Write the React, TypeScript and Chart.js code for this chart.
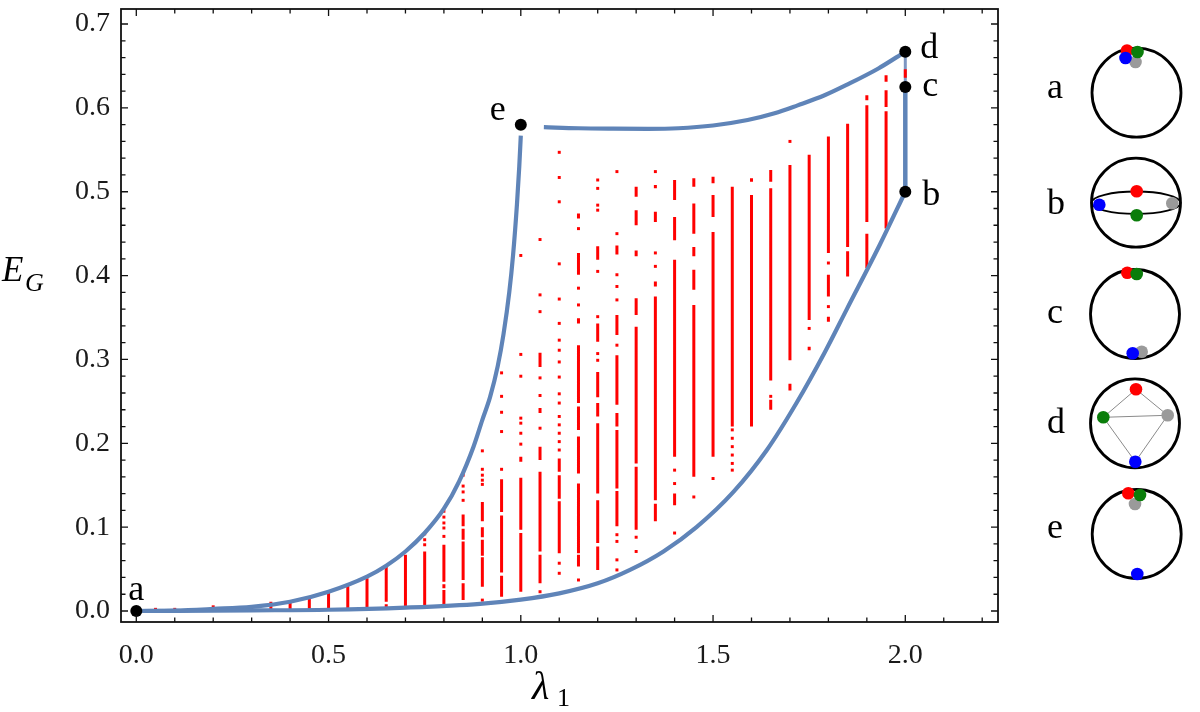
import { useEffect, useRef } from "react";
import { Chart, registerables } from "chart.js";

Chart.register(...registerables);

// Axis ranges and tick labels
const X_MIN = -0.0398;
const X_MAX = 2.2411;
const Y_MIN = -0.0131;
const Y_MAX = 0.7179;
const xTickValues = [0, 0.5, 1.0, 1.5, 2.0];
const yTickValues = [0, 0.1, 0.2, 0.3, 0.4, 0.5, 0.6, 0.7];

// Lower boundary of the allowed region
const lowerLambda = [0, 0.3, 0.5, 0.7, 0.894, 1.0, 1.1, 1.2, 1.284, 1.371, 1.457, 1.553, 1.64, 1.717, 1.79, 1.848, 1.934, 2.0];
const lowerEnergy = [0, 0.0008, 0.0015, 0.004, 0.0085, 0.0135, 0.021, 0.033, 0.049, 0.071, 0.1, 0.142, 0.192, 0.248, 0.308, 0.36, 0.437, 0.5];

// Left boundary, from a up to e
const leftLambda = [0, 0.1, 0.2, 0.3, 0.4, 0.5, 0.6, 0.65, 0.7, 0.75, 0.8, 0.84, 0.877, 0.9, 0.92, 0.94, 0.955, 0.97, 0.98, 0.99, 0.996, 1.0];
const leftEnergy = [0, 0.0005, 0.0025, 0.005, 0.011, 0.023, 0.041, 0.054, 0.071, 0.093, 0.122, 0.155, 0.196, 0.228, 0.255, 0.292, 0.33, 0.38, 0.425, 0.485, 0.53, 0.567];

// Upper boundary, from near e to d
const topLambda = [1.06, 1.15, 1.24, 1.33, 1.41, 1.5, 1.59, 1.66, 1.72, 1.79, 1.85, 1.93, 2.0];
const topEnergy = [0.577, 0.5757, 0.5752, 0.575, 0.5757, 0.579, 0.5855, 0.5935, 0.603, 0.615, 0.628, 0.647, 0.667];

// Right edge at lambda = 2 (b to c, then c to d)
const edgeLambda = [2.0, 2.0];
const edgeEnergy = [0.5, 0.625];
const capLambda = [2.0, 2.0];
const capEnergy = [0.625, 0.667];

// Special configurations
const markerNames = ["a", "b", "c", "d", "e"];
const markerLambda = [0, 2.0, 2.0, 2.0, 1.0];
const markerEnergy = [0, 0.5, 0.625, 0.667, 0.58];

// Sampled ground-state energies: columns at fixed lambda, solid runs [lo, hi] and isolated dots
const columnLambda = [
  0.05, 0.1, 0.2, 0.3, 0.35, 0.4, 0.45, 0.5, 0.55, 0.6, 0.65, 0.7, 0.75, 0.8, 0.85, 0.9, 0.95, 1.0,
  1.05, 1.1, 1.15, 1.2, 1.25, 1.3, 1.35, 1.4, 1.45, 1.5, 1.55, 1.6, 1.65, 1.7, 1.75, 1.8, 1.85, 1.9, 1.95, 2.0,
];
const columnRuns: number[][][] = [
  [],
  [],
  [],
  [],
  [[0.001, 0.011]],
  [[0.001, 0.01]],
  [[0.001, 0.016]],
  [[0.001, 0.022]],
  [[0.002, 0.03]],
  [[0.002, 0.039]],
  [[0.003, 0.008], [0.011, 0.053]],
  [[0.005, 0.067]],
  [[0.005, 0.071]],
  [[0.007, 0.025], [0.027, 0.032], [0.035, 0.079]],
  [[0.013, 0.033], [0.037, 0.083], [0.085, 0.098], [0.101, 0.115]],
  [[0.029, 0.064], [0.066, 0.085], [0.088, 0.1], [0.107, 0.13]],
  [[0.017, 0.042], [0.046, 0.114], [0.118, 0.157]],
  [[0.023, 0.093], [0.097, 0.159], [0.178, 0.184]],
  [[0.033, 0.067], [0.071, 0.166], [0.18, 0.196], [0.236, 0.242], [0.291, 0.308]],
  [[0.069, 0.131], [0.134, 0.162], [0.166, 0.182]],
  [[0.053, 0.067], [0.069, 0.152], [0.164, 0.208], [0.216, 0.244], [0.248, 0.317], [0.343, 0.349], [0.401, 0.427], [0.468, 0.474]],
  [[0.049, 0.077], [0.081, 0.132], [0.14, 0.224], [0.232, 0.248], [0.255, 0.285], [0.321, 0.343], [0.419, 0.435]],
  [[0.101, 0.143], [0.146, 0.216], [0.22, 0.236], [0.246, 0.305], [0.329, 0.353], [0.425, 0.436]],
  [[0.097, 0.172], [0.176, 0.339], [0.353, 0.373], [0.423, 0.43], [0.46, 0.478], [0.494, 0.506]],
  [[0.107, 0.128], [0.132, 0.375], [0.387, 0.393], [0.464, 0.476], [0.504, 0.508]],
  [[0.126, 0.14], [0.184, 0.419], [0.442, 0.47], [0.49, 0.514]],
  [[0.16, 0.365], [0.383, 0.407], [0.423, 0.434], [0.45, 0.486], [0.506, 0.516]],
  [[0.184, 0.452], [0.47, 0.496], [0.51, 0.518]],
  [[0.22, 0.506]],
  [[0.22, 0.496], [0.512, 0.516]],
  [[0.24, 0.252], [0.275, 0.504], [0.512, 0.526]],
  [[0.263, 0.271], [0.299, 0.532]],
  [[0.311, 0.315], [0.347, 0.544]],
  [[0.345, 0.351], [0.375, 0.401], [0.427, 0.566]],
  [[0.399, 0.429], [0.434, 0.581]],
  [[0.409, 0.45], [0.464, 0.603], [0.609, 0.615]],
  [[0.456, 0.596], [0.601, 0.621], [0.631, 0.639]],
  [[0.636, 0.646]],
];
const columnDots: number[][] = [
  [0.002],
  [0.002],
  [0.005],
  [0.002],
  [],
  [],
  [],
  [],
  [],
  [],
  [],
  [],
  [0.079, 0.085, 0.092],
  [0.089, 0.099, 0.105, 0.112, 0.119],
  [0.132, 0.142, 0.149, 0.162],
  [0.013, 0.151, 0.156, 0.162, 0.169, 0.191],
  [0.169, 0.214, 0.237, 0.256, 0.284],
  [0.199, 0.212, 0.224, 0.23, 0.28, 0.306, 0.424],
  [0.023, 0.218, 0.257, 0.278, 0.357, 0.377, 0.443],
  [0.045, 0.057, 0.192, 0.202, 0.212, 0.222, 0.232, 0.248, 0.259, 0.279, 0.297, 0.311, 0.323, 0.343, 0.372, 0.414, 0.488, 0.517, 0.547],
  [0.037, 0.365, 0.385, 0.456],
  [0.299, 0.307, 0.351, 0.405, 0.478, 0.484, 0.504, 0.514],
  [0.049, 0.061, 0.083, 0.091, 0.317, 0.371, 0.387, 0.401, 0.45, 0.524],
  [0.071, 0.088],
  [0.411, 0.427, 0.524],
  [0.093, 0.152, 0.168],
  [0.136],
  [0.158],
  [0.168, 0.176, 0.186, 0.196, 0.206, 0.216],
  [],
  [0.256],
  [0.56],
  [0.337],
  [0.363, 0.415],
  [],
  [],
  [],
  [],
];

// Styling
const BLUE = "#5f84b8";
const RED = "#ff0000";
const SERIF = '"Liberation Serif", "DejaVu Serif", serif';
const markerLabelOffsets: [number, number][] = [
  [-8, -11],
  [17, 13],
  [17, 9],
  [15, 6],
  [-31, -5],
];

// Sketches of the four-particle configurations beside the plot
type Dot = [number, number, string];
type Sketch = {
  name: string;
  labelY: number;
  cx: number;
  cy: number;
  ellipse?: boolean;
  edges?: [number, number][];
  dots: Dot[];
};
const GRAY = "#9a9a9a";
const GREEN = "#0a7d0a";
const BLUEDOT = "#0000ff";
const sketches: Sketch[] = [
  {
    name: "a", labelY: 98, cx: 1136.5, cy: 92.7,
    dots: [[1127, 50.5, RED], [1135.5, 62, GRAY], [1137.5, 52, GREEN], [1125.5, 58, BLUEDOT]],
  },
  {
    name: "b", labelY: 214, cx: 1136, cy: 202.7, ellipse: true,
    dots: [[1136.7, 191.3, RED], [1136.7, 215.3, GREEN], [1099.3, 204.7, BLUEDOT], [1172.3, 203.3, GRAY]],
  },
  {
    name: "c", labelY: 323, cx: 1135, cy: 314,
    dots: [[1127.3, 272.7, RED], [1136.7, 274, GREEN], [1141.7, 351.7, GRAY], [1132.7, 353.3, BLUEDOT]],
  },
  {
    name: "d", labelY: 433, cx: 1135, cy: 423.3,
    edges: [[0, 1], [0, 2], [1, 2], [1, 3], [2, 3]],
    dots: [[1136, 389.3, RED], [1103.3, 417.3, GREEN], [1167.7, 415.3, GRAY], [1135.3, 461.7, BLUEDOT]],
  },
  {
    name: "e", labelY: 538, cx: 1136.7, cy: 534,
    dots: [[1135, 504, GRAY], [1128.3, 493.3, RED], [1140, 495, GREEN], [1137.3, 574, BLUEDOT]],
  },
];

const toPoints = (xs: number[], ys: number[]) => xs.map((x, i) => ({ x, y: ys[i] }));

const runPoints: { x: number; y: number | null }[] = [];
columnLambda.forEach((lam, i) => {
  columnRuns[i].forEach(([lo, hi]) => {
    runPoints.push({ x: lam, y: lo }, { x: lam, y: hi }, { x: lam, y: null });
  });
});
const dotPoints: { x: number; y: number }[] = [];
columnLambda.forEach((lam, i) => {
  columnDots[i].forEach((v) => dotPoints.push({ x: lam, y: v }));
});

const frameTicksPlugin = {
  id: "frameTicks",
  afterDatasetsDraw(chart: any) {
    const { ctx, chartArea: a, scales } = chart;
    const xs = scales.x;
    const ys = scales.y;
    ctx.save();
    ctx.strokeStyle = "#111";
    ctx.lineWidth = 1.3;
    ctx.beginPath();
    for (let i = 0; i <= 22; i++) {
      const px = xs.getPixelForValue(i / 10);
      if (px > a.right - 1) break;
      const len = i % 5 === 0 ? 7 : 4.5;
      ctx.moveTo(px, a.bottom);
      ctx.lineTo(px, a.bottom - len);
      ctx.moveTo(px, a.top);
      ctx.lineTo(px, a.top + len);
    }
    for (let j = 0; j <= 35; j++) {
      const py = ys.getPixelForValue(j / 50);
      if (py < a.top + 1) break;
      const len = j % 5 === 0 ? 7 : 4.5;
      ctx.moveTo(a.left, py);
      ctx.lineTo(a.left + len, py);
      ctx.moveTo(a.right, py);
      ctx.lineTo(a.right - len, py);
    }
    ctx.stroke();
    ctx.lineWidth = 1.8;
    ctx.strokeRect(a.left, a.top, a.right - a.left, a.bottom - a.top);
    ctx.restore();
  },
  afterDraw(chart: any) {
    const { ctx, scales } = chart;
    const xs = scales.x;
    const ys = scales.y;
    ctx.save();
    ctx.fillStyle = "#000";
    ctx.textBaseline = "alphabetic";
    ctx.textAlign = "left";

    // Axis titles
    ctx.font = `italic 35px ${SERIF}`;
    ctx.fillText("E", 2, 281);
    ctx.font = `italic 26px ${SERIF}`;
    ctx.fillText("G", 25, 291);
    ctx.font = `italic 40px ${SERIF}`;
    ctx.fillText("λ", 532, 699);
    ctx.font = `26px ${SERIF}`;
    ctx.fillText("1", 557, 706);

    // Labels of the special configurations
    ctx.font = `36px ${SERIF}`;
    markerNames.forEach((name, i) => {
      const px = xs.getPixelForValue(markerLambda[i]);
      const py = ys.getPixelForValue(markerEnergy[i]);
      const [dx, dy] = markerLabelOffsets[i];
      ctx.fillText(name, px + dx, py + dy);
    });

    // Configuration sketches
    sketches.forEach((s) => {
      ctx.font = `36px ${SERIF}`;
      ctx.fillStyle = "#000";
      ctx.fillText(s.name, 1047, s.labelY);
      ctx.lineWidth = 2.8;
      ctx.strokeStyle = "#000";
      ctx.beginPath();
      ctx.arc(s.cx, s.cy, 44.5, 0, Math.PI * 2);
      ctx.stroke();
      if (s.ellipse) {
        ctx.lineWidth = 1.8;
        ctx.beginPath();
        ctx.ellipse(s.cx, s.cy, 44.5, 11.2, 0, 0, Math.PI * 2);
        ctx.stroke();
      }
      if (s.edges) {
        ctx.lineWidth = 1;
        ctx.strokeStyle = "#8a8a8a";
        ctx.beginPath();
        s.edges.forEach(([p, q]) => {
          ctx.moveTo(s.dots[p][0], s.dots[p][1]);
          ctx.lineTo(s.dots[q][0], s.dots[q][1]);
        });
        ctx.stroke();
      }
      s.dots.forEach(([dx, dy, color]) => {
        ctx.fillStyle = color;
        ctx.beginPath();
        ctx.arc(dx, dy, 6.3, 0, Math.PI * 2);
        ctx.fill();
      });
    });
    ctx.restore();
  },
};

export default function App() {
  const canvasRef = useRef<HTMLCanvasElement | null>(null);

  useEffect(() => {
    const canvas = canvasRef.current;
    if (!canvas) return;
    const chart = new Chart(canvas, {
      type: "scatter",
      data: {
        datasets: [
          {
            data: toPoints(markerLambda, markerEnergy),
            pointRadius: 6,
            pointBackgroundColor: "#000",
            pointBorderWidth: 0,
            showLine: false,
            order: 0,
          },
          {
            data: toPoints(lowerLambda, lowerEnergy),
            showLine: true,
            borderColor: BLUE,
            borderWidth: 4.2,
            pointRadius: 0,
            cubicInterpolationMode: "monotone",
            order: 1,
          },
          {
            data: toPoints(leftLambda, leftEnergy),
            showLine: true,
            borderColor: BLUE,
            borderWidth: 4.2,
            pointRadius: 0,
            cubicInterpolationMode: "monotone",
            order: 1,
          },
          {
            data: toPoints(topLambda, topEnergy),
            showLine: true,
            borderColor: BLUE,
            borderWidth: 4.2,
            pointRadius: 0,
            cubicInterpolationMode: "monotone",
            order: 1,
          },
          {
            data: toPoints(edgeLambda, edgeEnergy),
            showLine: true,
            borderColor: BLUE,
            borderWidth: 4.5,
            pointRadius: 0,
            order: 1,
          },
          {
            data: toPoints(capLambda, capEnergy),
            showLine: true,
            borderColor: "#7d96c2",
            borderWidth: 3,
            pointRadius: 0,
            order: 3,
          },
          {
            data: runPoints as any,
            showLine: true,
            spanGaps: false,
            borderColor: RED,
            borderWidth: 3,
            borderCapStyle: "butt",
            pointRadius: 0,
            order: 2,
          },
          {
            data: dotPoints,
            showLine: false,
            pointStyle: "rect",
            pointRadius: 2.1,
            pointBackgroundColor: RED,
            pointBorderWidth: 0,
            order: 2,
          },
        ],
      },
      options: {
        responsive: false,
        animation: false,
        events: [],
        layout: { padding: { top: 9, right: 202, bottom: 0, left: 0 } },
        plugins: { legend: { display: false }, tooltip: { enabled: false } },
        scales: {
          x: {
            type: "linear",
            position: "bottom",
            min: X_MIN,
            max: X_MAX,
            grid: { display: false, drawTicks: false },
            border: { display: false },
            afterBuildTicks: (scale: any) => {
              scale.ticks = xTickValues.map((v) => ({ value: v }));
            },
            afterFit: (scale: any) => {
              scale.height = 90;
              scale.paddingLeft = 0;
              scale.paddingRight = 0;
            },
            ticks: {
              padding: 17,
              color: "#1a1a1a",
              font: { family: SERIF, size: 28 },
              maxRotation: 0,
              autoSkip: false,
              callback: (v: any) => Number(v).toFixed(1),
            },
          },
          y: {
            type: "linear",
            position: "left",
            min: Y_MIN,
            max: Y_MAX,
            grid: { display: false, drawTicks: false },
            border: { display: false },
            afterBuildTicks: (scale: any) => {
              scale.ticks = yTickValues.map((v) => ({ value: v }));
            },
            afterFit: (scale: any) => {
              scale.width = 121;
              scale.paddingTop = 0;
              scale.paddingBottom = 0;
            },
            ticks: {
              padding: 11,
              color: "#1a1a1a",
              font: { family: SERIF, size: 28 },
              autoSkip: false,
              callback: (v: any) => Number(v).toFixed(1),
            },
          },
        },
      },
      plugins: [frameTicksPlugin],
    });
    return () => chart.destroy();
  }, []);

  return (
    <div style={{ position: "absolute", left: 0, top: 0, width: 1200, height: 712, background: "#fff" }}>
      <canvas ref={canvasRef} width={1200} height={712} style={{ display: "block" }} />
    </div>
  );
}
